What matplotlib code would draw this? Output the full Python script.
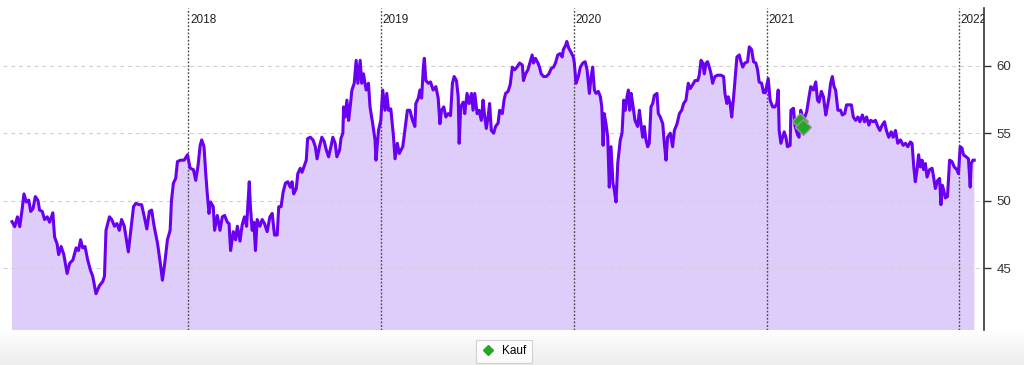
import datetime as dt
import numpy as np
import matplotlib
matplotlib.use("Agg")
import matplotlib.pyplot as plt
import matplotlib.dates as mdates
from matplotlib.lines import Line2D

years = [
    2017.084, 2017.098, 2017.112, 2017.124, 2017.136, 2017.146, 2017.158, 2017.171, 2017.181, 2017.193,
    2017.205, 2017.219, 2017.227, 2017.241, 2017.253, 2017.267, 2017.279, 2017.296, 2017.305, 2017.318,
    2017.326, 2017.339, 2017.353, 2017.370, 2017.383, 2017.400, 2017.417, 2017.429, 2017.440, 2017.451,
    2017.463, 2017.477, 2017.491, 2017.503, 2017.520, 2017.538, 2017.555, 2017.564, 2017.572, 2017.590,
    2017.602, 2017.616, 2017.629, 2017.641, 2017.653, 2017.667, 2017.676, 2017.688, 2017.701, 2017.715,
    2017.727, 2017.745, 2017.757, 2017.771, 2017.784, 2017.797, 2017.809, 2017.822, 2017.840, 2017.854,
    2017.865, 2017.877, 2017.891, 2017.905, 2017.912, 2017.922, 2017.934, 2017.943, 2017.960, 2017.978,
    2017.995,
    2018.009, 2018.026, 2018.038, 2018.050, 2018.061, 2018.069, 2018.081, 2018.090, 2018.098, 2018.107,
    2018.115, 2018.129, 2018.136, 2018.150, 2018.164, 2018.176, 2018.188, 2018.202, 2018.211, 2018.219,
    2018.233, 2018.245, 2018.254, 2018.268, 2018.279, 2018.291, 2018.302, 2018.310, 2018.316, 2018.322,
    2018.331, 2018.340, 2018.348, 2018.357, 2018.371, 2018.383, 2018.395, 2018.409, 2018.423, 2018.435,
    2018.447, 2018.461, 2018.469, 2018.481, 2018.492, 2018.504, 2018.516, 2018.529, 2018.538, 2018.547,
    2018.560, 2018.568, 2018.581, 2018.590, 2018.602, 2018.612, 2018.619, 2018.633, 2018.647, 2018.659,
    2018.668, 2018.682, 2018.693, 2018.705, 2018.716, 2018.728, 2018.740, 2018.750, 2018.762, 2018.771,
    2018.785, 2018.792, 2018.802, 2018.806, 2018.814, 2018.823, 2018.832, 2018.840, 2018.849, 2018.861,
    2018.871, 2018.880, 2018.892, 2018.900, 2018.909, 2018.923, 2018.935, 2018.943, 2018.957, 2018.969,
    2018.974, 2018.987, 2018.999,
    2019.009, 2019.021, 2019.030, 2019.039, 2019.051, 2019.064, 2019.073, 2019.085, 2019.095, 2019.113,
    2019.124, 2019.137, 2019.150, 2019.164, 2019.176, 2019.181, 2019.194, 2019.202, 2019.211, 2019.220,
    2019.225, 2019.233, 2019.246, 2019.257, 2019.271, 2019.285, 2019.297, 2019.306, 2019.314, 2019.326,
    2019.337, 2019.349, 2019.361, 2019.371, 2019.380, 2019.392, 2019.401, 2019.406, 2019.414, 2019.427,
    2019.435, 2019.447, 2019.458, 2019.470, 2019.478, 2019.487, 2019.499, 2019.509, 2019.521, 2019.530,
    2019.538, 2019.547, 2019.556, 2019.564, 2019.573, 2019.585, 2019.595, 2019.608, 2019.616, 2019.630,
    2019.639, 2019.647, 2019.660, 2019.671, 2019.682, 2019.694, 2019.706, 2019.720, 2019.734, 2019.740,
    2019.751, 2019.763, 2019.775, 2019.785, 2019.792, 2019.802, 2019.815, 2019.823, 2019.832, 2019.844,
    2019.858, 2019.872, 2019.884, 2019.896, 2019.906, 2019.918, 2019.930, 2019.941, 2019.947, 2019.958,
    2019.965, 2019.975, 2019.987, 2019.999,
    2020.004, 2020.013, 2020.025, 2020.035, 2020.048, 2020.060, 2020.070, 2020.082, 2020.091, 2020.099,
    2020.108, 2020.116, 2020.128, 2020.139, 2020.146, 2020.153, 2020.159, 2020.168, 2020.177, 2020.185,
    2020.194, 2020.204, 2020.211, 2020.220, 2020.229, 2020.242, 2020.251, 2020.260, 2020.268, 2020.277,
    2020.284, 2020.291, 2020.298, 2020.306, 2020.318, 2020.332, 2020.341, 2020.349, 2020.358, 2020.366,
    2020.375, 2020.384, 2020.392, 2020.401, 2020.410, 2020.418, 2020.432, 2020.439, 2020.449, 2020.462,
    2020.470, 2020.479, 2020.487, 2020.501, 2020.513, 2020.522, 2020.536, 2020.548, 2020.560, 2020.570,
    2020.582, 2020.594, 2020.604, 2020.617, 2020.629, 2020.643, 2020.651, 2020.660, 2020.669, 2020.677,
    2020.686, 2020.694, 2020.703, 2020.712, 2020.720, 2020.732, 2020.746, 2020.763, 2020.777, 2020.784,
    2020.794, 2020.801, 2020.811, 2020.819, 2020.829, 2020.836, 2020.846, 2020.858, 2020.867, 2020.876,
    2020.887, 2020.901, 2020.910, 2020.922, 2020.932, 2020.944, 2020.953, 2020.961, 2020.974, 2020.984,
    2020.993,
    2021.008, 2021.018, 2021.031, 2021.043, 2021.053, 2021.060, 2021.065, 2021.074, 2021.083, 2021.091,
    2021.100, 2021.108, 2021.122, 2021.126, 2021.139, 2021.148, 2021.160, 2021.168, 2021.177, 2021.186,
    2021.198, 2021.208, 2021.220, 2021.229, 2021.243, 2021.255, 2021.264, 2021.272, 2021.284, 2021.295,
    2021.307, 2021.315, 2021.324, 2021.332, 2021.341, 2021.350, 2021.358, 2021.370, 2021.384, 2021.393,
    2021.405, 2021.415, 2021.427, 2021.440, 2021.450, 2021.462, 2021.474, 2021.484, 2021.497, 2021.508,
    2021.519, 2021.531, 2021.540, 2021.554, 2021.565, 2021.577, 2021.588, 2021.600, 2021.612, 2021.622,
    2021.634, 2021.647, 2021.657, 2021.669, 2021.681, 2021.695, 2021.709, 2021.721, 2021.733, 2021.746,
    2021.755, 2021.764, 2021.772, 2021.781, 2021.789, 2021.798, 2021.807, 2021.815, 2021.824, 2021.833,
    2021.846, 2021.859, 2021.867, 2021.876, 2021.888, 2021.898, 2021.905, 2021.912, 2021.919, 2021.928,
    2021.939, 2021.950, 2021.962, 2021.974, 2021.988, 2021.996,
    2022.005, 2022.014, 2022.022, 2022.036, 2022.048, 2022.057, 2022.062, 2022.071, 2022.078,
]

price = [
    48.44, 48.07, 48.8, 48.07, 49.3, 50.5, 49.9, 50.04, 49.2, 49.4,
    50.3, 50.0, 49.3, 49.2, 48.6, 48.8, 48.4, 49.1, 47.3, 46.8,
    46.0, 46.6, 46.0, 44.6, 45.35, 45.6, 46.5, 46.3, 47.1, 46.5,
    46.6, 45.6, 44.85, 44.4, 43.1, 43.7, 44.0, 44.4, 47.8, 48.8,
    48.6, 48.1, 48.3, 47.8, 48.6, 48.1, 47.3, 46.2, 47.8, 49.55,
    49.8, 49.7, 49.7, 48.8, 47.9, 49.2, 49.3, 48.1, 46.8, 45.35,
    44.1, 45.35, 47.1, 47.8, 50.0, 51.3, 51.65, 52.9, 53.0, 53.0,
    53.4,
    52.4, 52.3, 51.5, 52.6, 54.1, 54.5, 54.0, 52.0, 50.5, 49.05,
    49.9, 49.55, 47.8, 48.9, 47.8, 48.8, 48.9, 48.4, 48.3, 46.3,
    47.7, 47.1, 48.1, 47.0, 48.2, 48.8, 48.1, 50.0, 51.4, 49.55,
    47.8, 48.4, 46.3, 48.6, 48.1, 48.6, 48.3, 47.7, 48.8, 49.05,
    47.45, 47.45, 49.55, 49.55, 50.65, 51.3, 51.4, 51.0, 51.4, 50.5,
    50.9, 52.0, 52.4, 52.1, 52.6, 53.0, 54.6, 54.7, 54.5, 54.0,
    53.1, 54.1, 54.7, 54.4, 53.75, 53.25, 54.0, 54.7, 54.25, 53.25,
    53.75, 54.6, 55.0, 56.95, 56.2, 57.45, 55.95, 56.95, 58.2, 58.7,
    60.4, 58.7, 60.4, 58.7, 59.4, 58.2, 58.7, 56.95, 55.7, 54.5,
    53.0, 55.2, 55.95,
    58.2, 56.7, 57.95, 56.7, 56.8, 54.9, 53.1, 54.25, 53.5, 54.0,
    55.2, 56.7, 56.7, 55.95, 55.5, 57.2, 57.6, 58.2, 57.6, 59.9,
    60.55, 58.9, 58.7, 58.8, 58.2, 58.45, 57.6, 55.7, 56.7, 56.95,
    56.2, 56.45, 56.3, 58.7, 59.2, 58.9, 57.7, 54.25, 56.95, 57.3,
    56.45, 57.95, 57.2, 57.95, 56.7, 57.95, 56.45, 56.7, 55.95, 57.45,
    56.3, 55.35, 56.2, 57.2, 55.2, 55.0, 55.5, 55.75, 56.7, 56.45,
    57.45, 57.95, 58.1, 58.6, 59.9, 59.7, 59.9, 60.2, 60.05, 58.9,
    59.4, 59.7, 60.3, 60.8, 60.2, 60.55, 60.2, 59.9, 59.4, 59.2,
    59.2, 59.4, 59.8, 59.9, 60.2, 60.8, 60.9, 60.65, 61.2, 61.5,
    61.8, 61.3, 61.0, 60.65,
    60.2, 58.7, 59.2, 59.9, 60.2, 60.3, 59.7, 57.95, 59.2, 59.9,
    58.2, 57.95, 58.1, 57.7, 56.95, 54.1, 56.45, 55.7, 54.7, 51.0,
    54.0, 51.3, 50.8, 49.9, 52.8, 54.5, 55.0, 57.45, 56.7, 57.7,
    58.2, 56.7, 57.95, 57.2, 55.95, 55.5, 56.7, 55.7, 54.7, 55.5,
    54.5, 54.0, 54.25, 56.95, 57.2, 57.8, 57.95, 56.45, 56.2, 55.7,
    54.25, 53.0, 54.7, 55.0, 54.0, 55.2, 55.7, 56.45, 56.7, 57.2,
    57.45, 58.7, 58.3, 58.6, 58.9, 58.9, 59.3, 60.4, 60.2, 59.4,
    60.2, 60.3, 59.9, 59.4, 58.7, 59.2, 59.3, 59.3, 59.2, 57.95,
    57.2, 57.7, 57.2, 56.2, 57.7, 58.9, 60.65, 60.8, 60.3, 59.9,
    60.2, 60.3, 61.4, 61.2, 60.3, 60.2, 59.7, 58.8, 58.7, 58.0,
    58.0,
    59.05, 57.45, 56.95, 56.95, 57.2, 58.2, 55.2, 54.25, 54.7, 55.1,
    54.7, 54.0, 54.1, 56.7, 56.85, 55.5, 54.9, 54.7, 56.7, 56.2,
    56.2, 56.6, 57.7, 58.45, 58.2, 58.8, 57.45, 57.3, 58.1, 57.7,
    56.35, 56.95, 57.7, 58.7, 59.2, 58.45, 58.2, 56.7, 56.7, 56.35,
    56.45, 57.1, 57.1, 57.1, 56.2, 55.95, 56.2, 55.85, 56.35, 55.85,
    56.2, 55.6, 55.95, 55.85, 55.95, 55.5, 55.2, 55.6, 55.85, 55.2,
    54.7, 55.1, 54.7, 55.2, 54.25, 54.5, 54.1, 54.25, 54.0, 54.35,
    54.25, 52.5, 51.4, 52.3, 53.4, 52.5, 53.0, 52.3, 52.75, 51.75,
    52.3, 52.4, 51.75, 50.9, 51.5, 51.65, 49.7, 51.15, 50.8, 50.2,
    50.3, 53.0, 52.9, 52.5, 52.3, 52.0,
    54.0, 53.9, 53.4, 53.25, 53.1, 51.0, 52.75, 53.0, 53.0,
]

# Kauf-Signale
kauf_years = [2021.175, 2021.190]
kauf_price = [55.9, 55.45]

year_lines = [2018, 2019, 2020, 2021, 2022]
y_ticks = [45, 50, 55, 60]


def to_date(t):
    y = int(t)
    start = dt.datetime(y, 1, 1)
    days = (dt.datetime(y + 1, 1, 1) - start).days
    return start + dt.timedelta(days=(t - y) * days)


dates = [to_date(t) for t in years]
kauf_dates = [to_date(t) for t in kauf_years]

plt.rcParams['font.family'] = ['Liberation Sans', 'DejaVu Sans']

fig = plt.figure(figsize=(10.24, 3.65), dpi=100)

# grauer Verlauf unten
bg = fig.add_axes([0, 0, 1, 35 / 365])
grad = np.linspace(1.0, 0.93, 50).reshape(-1, 1)
bg.imshow(np.dstack([grad, grad, grad]), aspect='auto', extent=[0, 1, 0, 1], origin='upper')
bg.axis('off')
bg.set_zorder(0)

ax = fig.add_axes([0.003, 35 / 365, 0.958, 1 - 35 / 365 - 8 / 365])
ax.set_zorder(1)
ax.patch.set_alpha(0)

ax.fill_between(dates, price, 0, color='#decdfa', linewidth=0, zorder=1)
ax.plot(dates, price, color='#6a00f0', linewidth=2.2, zorder=3)

ax.set_ylim(40.41, 64.28)
ax.set_xlim(to_date(2017.0375), to_date(2022.129))

for yv in y_ticks:
    ax.axhline(yv, color='#cfcfcf', linewidth=0.8, linestyle=(0, (3.5, 3.5)), zorder=2)

for yr in year_lines:
    d = dt.datetime(yr, 1, 1)
    ax.axvline(d, color='#4a4a4a', linewidth=1.0, linestyle=(0, (1.3, 1.3)), zorder=2)
    ax.text(mdates.date2num(d) + 3, 63.39, str(yr), fontsize=8.5, color='#222222',
            ha='left', va='center', clip_on=True, zorder=4)

ax.plot(kauf_dates, kauf_price, linestyle='none', marker='D', markersize=8,
        markerfacecolor='#22a822', markeredgecolor='#999999', markeredgewidth=1.0, zorder=5)

ax.yaxis.tick_right()
ax.set_yticks(y_ticks)
ax.tick_params(axis='y', direction='out', length=5, width=1, colors='#333333',
               labelsize=9.5, pad=4)
ax.set_xticks([])
for side in ['top', 'bottom', 'left']:
    ax.spines[side].set_visible(False)
ax.spines['right'].set_color('#333333')
ax.spines['right'].set_linewidth(1.2)

handle = Line2D([], [], linestyle='none', marker='D', markersize=5,
                markerfacecolor='#22a822', markeredgecolor='#22a822')
leg = fig.legend([handle], ['Kauf'], loc='center', bbox_to_anchor=(0.492, 0.037),
                 fontsize=8.5, frameon=True, fancybox=False, edgecolor='#c8c8c8',
                 handlelength=1.2, handletextpad=0.6, borderpad=0.45)
leg.get_frame().set_linewidth(0.8)

fig.savefig('out.png', dpi=100)
